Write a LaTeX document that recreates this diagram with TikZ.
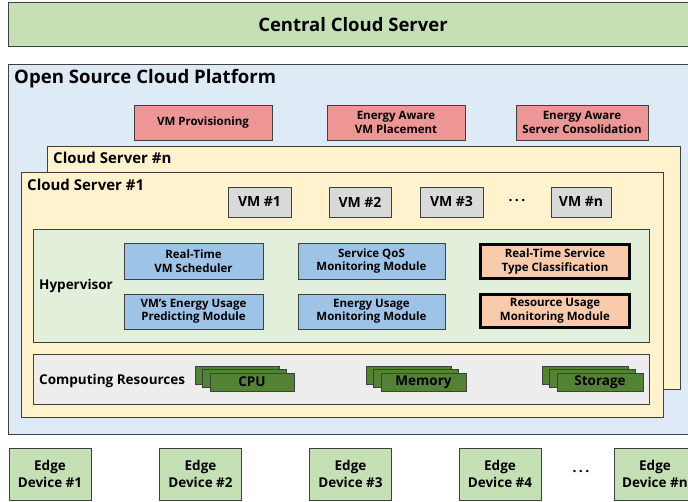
\documentclass[tikz,border=0pt]{standalone}
\usepackage{fontspec}
\setmainfont{Open Sans}

\definecolor{centralgreen}{RGB}{197,224,180}
\definecolor{platformblue}{RGB}{222,235,247}
\definecolor{serveryellow}{RGB}{255,242,204}
\definecolor{policyred}{RGB}{238,150,150}
\definecolor{vmgray}{RGB}{217,217,217}
\definecolor{hyperfill}{RGB}{226,239,218}
\definecolor{moduleblue}{RGB}{157,195,230}
\definecolor{moduleorange}{RGB}{248,203,173}
\definecolor{resgray}{RGB}{237,237,237}
\definecolor{resgreen}{RGB}{84,130,53}

\tikzset{
  box/.style={draw=black!75, line width=0.8pt, inner sep=0pt, align=center},
  layer/.style={box, anchor=north west},
  title/.style={anchor=west, inner sep=0pt, font=\bfseries\fontsize{15}{17}\selectfont},
  policy/.style={box, fill=policyred, minimum height=35, font=\bfseries\fontsize{11.5}{13.5}\selectfont},
  vmbox/.style={box, fill=vmgray, minimum height=30, font=\bfseries\fontsize{14}{16}\selectfont},
  module/.style={box, fill=moduleblue, minimum width=139, minimum height=36, font=\bfseries\fontsize{11.5}{13.5}\selectfont},
  newmodule/.style={module, fill=moduleorange, line width=3pt, draw=black},
  resbox/.style={box, fill=resgreen, minimum height=18, font=\bfseries\fontsize{13.5}{15}\selectfont},
  edgebox/.style={box, fill=centralgreen, minimum width=82, minimum height=52, font=\bfseries\fontsize{13.5}{17}\selectfont},
  dots/.style={inner sep=0pt, font=\bfseries\fontsize{14}{16}\selectfont}
}

\begin{document}
\begin{tikzpicture}[x=1pt,y=-1pt]
\useasboundingbox (0,0) rectangle (688,502);

% Central cloud
\node[layer, fill=centralgreen, minimum width=688, minimum height=44] (central) at (8,2) {};
\node[font=\bfseries\fontsize{18.5}{20}\selectfont, inner sep=0pt] (centraltxt) at (353,25) {Central Cloud Server};

% Cloud platform
\node[layer, fill=platformblue, minimum width=692, minimum height=370] (platform) at (8,64) {};
\node[title, font=\bfseries\fontsize{18.6}{20}\selectfont] (platformtxt) at (14,79) {Open Source Cloud Platform};

\node[policy, minimum width=138] (prov) at (203,122.5) {VM Provisioning};
\node[policy, minimum width=138] (place) at (396,122.5) {Energy Aware\\VM Placement};
\node[policy, minimum width=132] (consol) at (582,122.5) {Energy Aware\\Server Consolidation};

% Cloud servers
\node[layer, fill=serveryellow, minimum width=633, minimum height=243] (servern) at (47,146) {};
\node[title] (serverntxt) at (53,158) {Cloud Server \#n};

\node[layer, fill=serveryellow, minimum width=642, minimum height=245] (server1) at (21,172) {};
\node[title] (server1txt) at (27,185) {Cloud Server \#1};

% VMs
\node[vmbox, minimum width=63] (vm1) at (259.5,202) {VM \#1};
\node[vmbox, minimum width=62] (vm2) at (360,202) {VM \#2};
\node[vmbox, minimum width=63] (vm3) at (451.5,202) {VM \#3};
\node[dots] (vmdots) at (517,201) {.\,.\,.};
\node[vmbox, minimum width=60] (vmn) at (581,202) {VM \#n};

% Hypervisor
\node[layer, fill=hyperfill, minimum width=616, minimum height=113] (hyper) at (33,229) {};
\node[title, font=\bfseries\fontsize{13.5}{15}\selectfont] (hypertxt) at (39,286) {Hypervisor};

\node[module] (sched) at (193.5,261) {Real-Time\\VM Scheduler};
\node[module, minimum width=147] (qos) at (371.5,261) {Service QoS\\Monitoring Module};
\node[newmodule, minimum width=149, minimum height=34] (classify) at (555,261.5) {Real-Time Service\\Type Classification};
\node[module, minimum height=35] (predict) at (193.5,311.5) {VM's Energy Usage\\Predicting Module};
\node[module, minimum width=147, minimum height=35] (energy) at (371.5,311.5) {Energy Usage\\Monitoring Module};
\node[newmodule, minimum width=149, minimum height=33] (resmon) at (555,311) {Resource Usage\\Monitoring Module};

% Computing resources
\node[layer, fill=resgray, minimum width=616, minimum height=50] (compute) at (33,354) {};
\node[title, font=\bfseries\fontsize{13.5}{15}\selectfont] (computetxt) at (39,381) {Computing Resources};

\foreach \cx/\w in {252/84, 423.5/85, 600/86} {
  \foreach \d in {15,7.5}
    \draw[box, fill=resgreen] (\cx-\w/2-\d,373-\d/2.15) rectangle ++(\w,18);
}
\node[resbox, minimum width=84] (cpu) at (252,382) {CPU};
\node[resbox, minimum width=85] (mem) at (423.5,382) {Memory};
\node[resbox, minimum width=86] (sto) at (600,382) {Storage};

% Edge devices
\node[edgebox] (edge1) at (50,474) {Edge\\Device \#1};
\node[edgebox] (edge2) at (200.5,474) {Edge\\Device \#2};
\node[edgebox] (edge3) at (350.5,474) {Edge\\Device \#3};
\node[edgebox] (edge4) at (500,474) {Edge\\Device \#4};
\node[dots] (edgedots) at (581,472) {.\,.\,.};
\node[edgebox] (edgen) at (655,474) {Edge\\Device \#n};

\end{tikzpicture}
\end{document}
